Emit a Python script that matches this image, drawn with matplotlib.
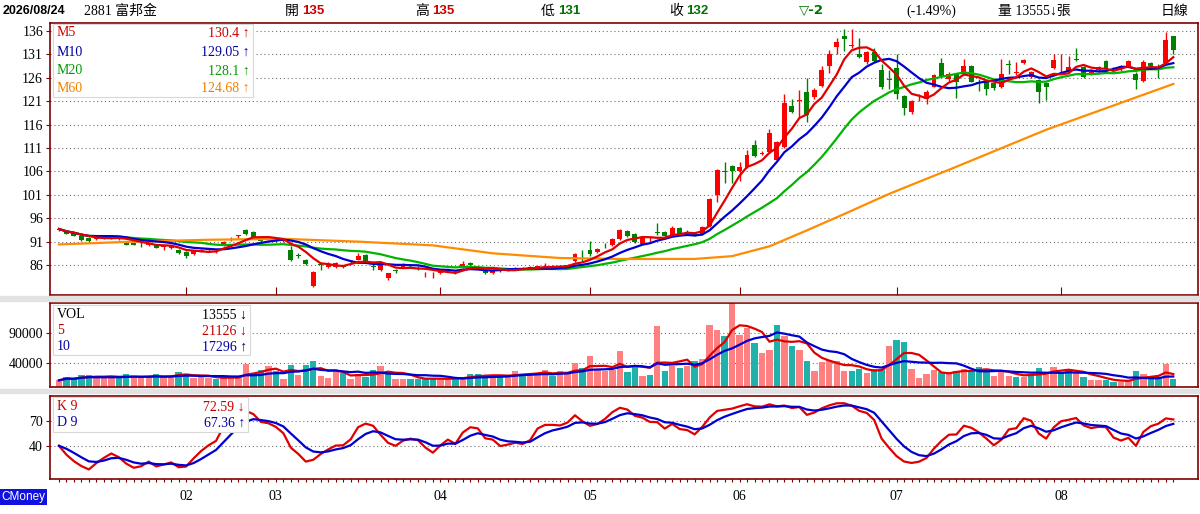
import matplotlib
matplotlib.use('Agg')
import matplotlib.pyplot as plt
import matplotlib.transforms as mtransforms
from matplotlib.patches import Rectangle
import numpy as np
import pandas as pd

# ---- data (daily candles, mid Jan .. 2026/08/24) ----
opens = [93.4, 93.3, 92.8, 92.3, 91.7, 91.5, 91.6, 91.7, 91.8, 90.9,
         90.8, 90.5, 90.3, 90.2, 89.9, 89.7, 89.3, 88.7, 88.4, 89.0,
         89.2, 88.8, 90.3, 91.5, 92.2, 93.5, 93.0, 91.2, 91.6, 91.5,
         91.2, 89.3, 88.0, 87.0, 81.6, 86.1, 85.5, 85.5, 85.8, 86.6,
         87.1, 88.1, 85.8, 84.9, 83.2, 84.8, 85.6, 86.0, 85.4, 83.8,
         83.4, 84.3, 84.7, 84.4, 85.5, 86.5, 85.6, 84.7, 84.2, 84.8,
         85.0, 85.3, 85.4, 85.2, 85.5, 85.4, 85.7, 85.6, 85.8, 86.8,
         87.4, 89.2, 88.7, 90.3, 90.3, 91.5, 93.2, 92.6, 90.6, 91.3,
         93.1, 93.0, 92.3, 93.9, 93.1, 92.5, 92.6, 94.4, 101.0, 106.0,
         107.1, 106.0, 107.0, 111.7, 109.8, 110.1, 108.4, 111.2, 120.0, 121.0,
         122.9, 121.9, 124.3, 128.6, 132.6, 134.9, 132.8, 131.0, 129.3, 131.6,
         127.6, 125.8, 128.1, 122.1, 118.6, 121.8, 121.4, 124.1, 129.1, 125.7,
         126.7, 126.9, 128.5, 125.0, 125.0, 124.8, 124.1, 129.0, 127.0, 129.2,
         126.2, 125.5, 124.8, 128.1, 129.3, 127.3, 130.0, 128.4, 127.0, 127.6,
         129.6, 127.7, 127.8, 128.6, 126.9, 125.3, 129.1, 128.4, 129.2, 135.0]
highs = [93.9, 93.5, 93.0, 92.5, 91.9, 92.2, 92.3, 92.4, 92.0, 91.0,
         91.0, 90.9, 90.9, 90.4, 90.3, 90.2, 89.5, 88.9, 89.2, 89.5,
         89.6, 89.3, 91.1, 92.0, 92.5, 93.6, 93.3, 91.5, 92.0, 91.8,
         91.7, 90.0, 88.5, 87.2, 84.8, 86.4, 86.6, 86.6, 86.1, 87.0,
         88.6, 88.3, 86.2, 86.2, 84.3, 85.1, 86.4, 86.3, 85.7, 84.6,
         84.6, 85.1, 85.2, 84.7, 86.9, 86.6, 85.8, 85.0, 85.0, 85.1,
         85.4, 85.6, 85.6, 85.7, 85.9, 86.4, 86.0, 86.0, 86.3, 88.5,
         89.2, 91.1, 89.6, 90.8, 91.8, 93.8, 93.5, 92.8, 92.0, 92.2,
         95.0, 93.2, 94.3, 94.1, 93.4, 92.9, 94.3, 100.4, 106.5, 108.1,
         107.3, 108.0, 110.5, 112.8, 110.3, 115.0, 112.5, 122.5, 121.5, 123.4,
         126.0, 123.8, 128.5, 132.0, 134.6, 136.4, 136.4, 134.4, 131.8, 132.4,
         129.0, 127.6, 131.0, 122.4, 121.3, 122.6, 123.3, 126.8, 130.3, 127.3,
         127.0, 130.1, 128.7, 125.8, 125.3, 125.2, 130.0, 129.7, 129.4, 130.1,
         127.5, 125.7, 125.0, 131.0, 131.0, 130.6, 132.4, 128.6, 127.8, 128.6,
         129.8, 128.3, 128.7, 129.9, 127.2, 129.8, 129.3, 128.9, 135.7, 135.0]
lows = [93.3, 92.6, 92.2, 91.2, 91.0, 91.4, 91.5, 91.6, 91.3, 90.2,
        90.2, 89.9, 90.1, 89.6, 89.2, 89.5, 88.4, 87.4, 88.2, 88.8,
        88.9, 88.6, 90.1, 91.2, 91.8, 92.5, 91.8, 90.8, 91.3, 91.0,
        91.0, 86.9, 87.4, 86.0, 81.3, 84.9, 85.3, 85.4, 85.3, 86.2,
        87.0, 86.7, 85.0, 84.8, 82.8, 84.2, 85.4, 85.6, 85.0, 83.5,
        83.3, 84.1, 84.5, 84.0, 85.4, 85.9, 85.2, 84.1, 84.1, 84.5,
        84.8, 85.0, 85.0, 85.1, 85.3, 85.3, 85.4, 85.4, 85.6, 86.6,
        86.9, 88.0, 88.5, 89.7, 90.1, 91.3, 91.9, 90.8, 90.4, 90.8,
        92.4, 91.9, 92.1, 92.5, 92.7, 92.2, 92.4, 94.2, 99.5, 103.5,
        103.5, 104.0, 106.7, 109.0, 109.4, 109.9, 108.2, 111.0, 118.4, 117.6,
        116.6, 121.5, 124.0, 127.0, 131.0, 131.7, 132.3, 130.2, 129.0, 129.4,
        123.7, 123.6, 121.5, 118.1, 118.3, 121.0, 120.3, 124.0, 126.2, 125.3,
        121.7, 126.5, 125.0, 123.1, 122.4, 123.4, 123.8, 126.9, 126.6, 129.0,
        126.0, 120.7, 121.2, 127.9, 127.0, 127.1, 129.5, 126.0, 126.5, 127.2,
        127.8, 127.2, 127.5, 128.4, 123.7, 125.0, 128.3, 126.0, 129.0, 131.0]
closes = [93.7, 92.7, 92.3, 91.3, 91.1, 92.0, 92.1, 92.2, 91.5, 90.3,
          90.3, 90.4, 90.7, 89.7, 89.9, 90.0, 88.5, 88.0, 89.0, 89.2,
          89.3, 89.1, 91.0, 91.6, 92.3, 92.7, 92.0, 91.1, 91.8, 91.3,
          91.5, 87.1, 87.9, 86.2, 84.6, 86.0, 86.3, 86.5, 85.6, 86.7,
          88.0, 86.8, 85.6, 86.0, 84.2, 84.7, 86.2, 85.9, 85.3, 83.9,
          83.5, 84.9, 85.0, 84.3, 86.3, 86.0, 85.4, 84.2, 84.9, 84.7,
          85.3, 85.4, 85.2, 85.5, 85.7, 85.8, 85.6, 85.7, 86.0, 88.3,
          87.3, 88.3, 89.4, 90.2, 91.6, 93.5, 92.1, 91.0, 91.7, 91.4,
          92.9, 92.1, 93.9, 92.6, 93.0, 92.4, 94.1, 100.1, 106.2, 105.9,
          106.1, 107.0, 109.6, 109.2, 110.0, 114.1, 112.3, 120.7, 118.6, 121.3,
          118.0, 123.4, 127.6, 131.0, 133.6, 134.2, 132.9, 130.4, 131.4, 129.6,
          124.1, 125.6, 122.6, 119.6, 121.0, 122.0, 123.0, 126.6, 126.4, 126.9,
          125.1, 128.5, 125.1, 124.8, 123.7, 123.8, 126.9, 128.8, 127.1, 129.9,
          127.3, 123.0, 124.1, 129.9, 129.4, 128.4, 129.8, 126.2, 127.1, 128.4,
          128.1, 127.6, 128.5, 129.6, 125.5, 129.3, 128.5, 128.2, 134.0, 132.0]
volumes = [11100, 16700, 13300, 20600, 20600, 15000, 16700, 16100, 16700, 21700,
           15000, 15000, 16700, 22200, 17800, 16700, 25600, 22200, 15000, 16700,
           15000, 13300, 16700, 16700, 16700, 38900, 23300, 28900, 35600, 26100,
           13900, 37200, 20600, 37200, 42800, 18900, 15600, 24400, 23300, 13900,
           22200, 16100, 27800, 35600, 26100, 13300, 13900, 13900, 13900, 13900,
           13900, 13900, 12200, 16700, 16700, 22200, 22200, 16700, 19400, 16700,
           19400, 26100, 22200, 23300, 22200, 27800, 17800, 26100, 24400, 40000,
           31700, 51100, 27800, 26100, 28900, 59400, 24400, 37200, 18900, 20600,
           101000, 26100, 34400, 31700, 34400, 42800, 47200, 104000, 95600, 84400,
           143000, 87200, 98300, 73300, 56700, 62200, 104000, 84400, 68900, 62200,
           43900, 27200, 41100, 45600, 42800, 26100, 26100, 30600, 22800, 30600,
           30600, 68900, 78900, 74400, 30600, 15600, 22200, 27800, 25000, 23300,
           27200, 30600, 27200, 33300, 28900, 18900, 27200, 17800, 16700, 16700,
           21700, 31700, 25000, 33300, 25000, 28900, 23300, 16100, 12200, 11100,
           12000, 9000, 9000, 10000, 27300, 21700, 16700, 16700, 38900, 13555]

# M60 (needs history before the first candle)
m60_idx = [0, 10, 20, 30, 40, 50, 58, 67, 75, 85, 90, 95, 100, 105, 111, 120, 132, 140, 149]
m60_val = [90.4, 91.0, 91.4, 91.6, 91.0, 90.2, 88.5, 87.5, 87.3, 87.3, 87.9, 90.0,
           93.4, 96.9, 101.2, 107.0, 114.9, 119.5, 124.68]

k_start, d_start = 40.0, 40.0

month_labels = ['02', '03', '04', '05', '06', '07', '08']
month_start = [17, 29, 51, 71, 91, 112, 134]

price_ticks = [86, 91, 96, 101, 106, 111, 116, 121, 126, 131, 136]
vol_ticks = [40000, 90000]
kd_ticks = [40, 70]

ma_legend = [('M5', '130.4 ↑', '#d00000'), ('M10', '129.05 ↑', '#0000a0'),
             ('M20', '128.1 ↑', '#009c00'), ('M60', '124.68 ↑', '#f08000')]
vol_legend = [('VOL', '13555 ↓', '#000000'), ('5', '21126 ↓', '#c00000'),
              ('10', '17296 ↑', '#0000a0')]
kd_legend = [('K 9', '72.59 ↓', '#c00000'), ('D 9', '67.36 ↑', '#0000a0')]

# ---- derived series ----
n = len(closes)
x = np.arange(n)
c = pd.Series(closes)
m5 = c.rolling(5, min_periods=1).mean()
m10 = c.rolling(10, min_periods=1).mean()
m20 = c.rolling(20, min_periods=1).mean()
v = pd.Series(volumes)
v5 = v.rolling(5, min_periods=1).mean()
v10 = v.rolling(10, min_periods=1).mean()

k_vals, d_vals = [k_start], [d_start]
for i in range(1, n):
    lo = min(lows[max(0, i - 8):i + 1])
    hi = max(highs[max(0, i - 8):i + 1])
    rsv = (closes[i] - lo) / (hi - lo) * 100 if hi > lo else 50
    k = k_vals[-1] * 2 / 3 + rsv / 3
    d_vals.append(d_vals[-1] * 2 / 3 + k / 3)
    k_vals.append(k)

# ---- figure ----
W, H = 1200, 514
SERIF = ['Liberation Serif', 'Noto Sans CJK TC', 'DejaVu Sans']
SANS = ['Liberation Sans', 'Noto Sans CJK TC', 'DejaVu Sans']
BORDER = '#800000'
RED, GREEN = '#ff0000', '#008000'

fig = plt.figure(figsize=(12, 5.14), dpi=100)
fig.patch.set_facecolor('white')


def fx(px):
    return px / W


def fy(py):
    return 1 - py / H


def panel(top, bottom):
    ax = fig.add_axes([fx(50), fy(bottom), fx(1198) - fx(50), fy(top) - fy(bottom)])
    for s in ax.spines.values():
        s.set_color(BORDER)
        s.set_linewidth(1.2)
    ax.set_xlim(-1.2, 152.3)
    ax.tick_params(axis='y', direction='out', length=3, color=BORDER, pad=2)
    return ax


def dotted(ax, vals):
    for val in vals:
        ax.axhline(val, color='#707070', lw=0.8, ls=(0, (1, 2.5)), zorder=0)


def ylabels(ax, ticks, labels):
    ax.set_yticks(ticks)
    ax.set_yticklabels(labels, fontsize=10, family=SERIF)


# gray bands between panels
for top, bot in [(296, 301), (389, 393)]:
    fig.patches.append(Rectangle((0, fy(bot)), 1, (bot - top) / H,
                                 transform=fig.transFigure, color='#e2e2e2', zorder=0))

# price panel
ax1 = panel(23, 295)
ax1.set_ylim(79.6, 137.7)
dotted(ax1, price_ticks)
ylabels(ax1, price_ticks, [str(t) for t in price_ticks])
ax1.set_xticks(month_start)
ax1.tick_params(axis='x', direction='in', length=6, color=BORDER, labelbottom=False)

o = np.array(opens)
cl = np.array(closes)
up = cl >= o
cols = np.where(up, RED, GREEN)
ax1.vlines(x, lows, highs, colors=cols, lw=1, zorder=2)
body_bot = np.minimum(o, cl)
body_h = np.maximum(np.abs(cl - o), 0.15)
ax1.bar(x, body_h, bottom=body_bot, width=0.66, color=cols, zorder=3, linewidth=0)

ax1.plot(x, m20, color='#00b400', lw=1.6, zorder=4)
ax1.plot(m60_idx, m60_val, color='#ff8c00', lw=1.6, zorder=4)
ax1.plot(x, m10, color='#0000d0', lw=1.6, zorder=5)
ax1.plot(x, m5, color='#e00000', lw=1.6, zorder=6)

# volume panel
ax2 = panel(303, 387)
ax2.set_ylim(0, 140000)
dotted(ax2, vol_ticks)
ylabels(ax2, vol_ticks, [str(t) for t in vol_ticks])
ax2.set_xticks([])
vcols = ['#ff8080'] + ['#ff8080' if closes[i] >= closes[i - 1] else '#20b2aa'
                       for i in range(1, n)]
ax2.bar(x, volumes, width=0.85, color=vcols, linewidth=0, zorder=2)
ax2.plot(x, v10, color='#0000d0', lw=1.6, zorder=4)
ax2.plot(x, v5, color='#e00000', lw=1.6, zorder=3)

# KD panel
ax3 = panel(396, 479)
ax3.set_ylim(0, 100)
dotted(ax3, kd_ticks)
ylabels(ax3, kd_ticks, [str(t) for t in kd_ticks])
ax3.set_xticks(x)
ax3.tick_params(axis='x', direction='out', length=2.5, color=BORDER, labelbottom=False)
ax3.plot(x, k_vals, color='#e00000', lw=1.6, zorder=3)
ax3.plot(x, d_vals, color='#0000d0', lw=1.6, zorder=4)
trans = mtransforms.blended_transform_factory(ax3.transData, fig.transFigure)
for lab, idx in zip(month_labels, month_start):
    ax3.text(idx, fy(497), lab, transform=trans, ha='center', va='center',
             fontsize=10, family=SERIF)


# legend boxes
def legend_box(x0, y0, x1, y1, rows, ys, label_x, value_x):
    fig.patches.append(Rectangle((fx(x0), fy(y1)), fx(x1) - fx(x0), (y1 - y0) / H,
                                 transform=fig.transFigure, facecolor='white',
                                 edgecolor='#d8d8d8', lw=0.8, zorder=10))
    for (name, val, col), yy in zip(rows, ys):
        fig.text(fx(label_x), fy(yy), name, color=col, fontsize=10, family=SERIF,
                 ha='left', va='center', zorder=11)
        fig.text(fx(value_x), fy(yy), val, color=col, fontsize=10, family=SERIF,
                 ha='right', va='center', zorder=11)


legend_box(53, 24, 253, 97, ma_legend, [33, 52, 71, 88], 57, 250)
legend_box(53, 305, 250, 355, vol_legend, [315, 331, 347], 57, 247)
legend_box(53, 397, 248, 432, kd_legend, [407, 423], 57, 245)

# header line
hy = fy(11)
fig.text(fx(3), hy, '2026/08/24', fontsize=9, weight='bold', family=SANS, va='center')
fig.text(fx(84), hy, '2881 富邦金', fontsize=10, family=SERIF, va='center')
header = [(285, '開', '135', '#cc0000'), (415, '高', '135', '#cc0000'),
          (541, '低', '131', '#007000'), (669, '收', '132', '#007000')]
for hx, name, val, col in header:
    fig.text(fx(hx), hy, name, fontsize=10, family=SERIF, va='center')
    fig.text(fx(hx + 17), hy, val, fontsize=9.5, weight='bold', family=SANS,
             color=col, va='center')
fig.text(fx(799), hy, '▽-2', fontsize=9.5, weight='bold', family=['DejaVu Sans'],
         color='#007000', va='center')
fig.text(fx(906), hy, '(-1.49%)', fontsize=10, family=SERIF, va='center')
fig.text(fx(998), hy, '量 13555↓張', fontsize=10, family=SERIF, va='center')
fig.text(fx(1161), hy, '日線', fontsize=10, family=SERIF, va='center')

fig.text(fx(1), fy(497), 'CMoney', fontsize=8.5, family=SANS, color='white',
         va='center', ha='left',
         bbox=dict(facecolor='#1010e0', edgecolor='none', pad=1.5))

fig.savefig('out.png', dpi=100, facecolor='white')
